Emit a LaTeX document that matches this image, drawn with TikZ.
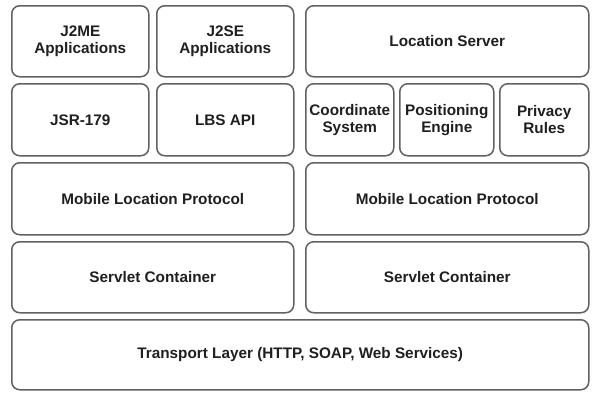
\documentclass[tikz,border=0pt]{standalone}
\usepackage{fontspec}
\setmainfont{Liberation Sans}
\usetikzlibrary{positioning}

\begin{document}
\begin{tikzpicture}[x=1pt,y=-1pt,
		layer/.style={draw=black!62, line width=1.5pt, rounded corners=8pt, anchor=north west,
			align=center, inner sep=1pt, text=black!88, font=\fontsize{15.3}{17}\selectfont\bfseries}]
		\useasboundingbox (0,0) rectangle (593,392);
		% left stack
		\node [layer, minimum width=137pt, minimum height=71pt] (j2me) at (11,5) {J2ME\\Applications};
		\node [layer, minimum width=137pt, minimum height=71pt] (j2se) at (156,5) {J2SE\\Applications};
		\node [layer, minimum width=137pt, minimum height=72pt] (jsr) at (11,83) {JSR-179};
		\node [layer, minimum width=137pt, minimum height=72pt] (lbsapi) at (156,83) {LBS API};
		\node [layer, minimum width=282pt, minimum height=72pt] (mlpleft) at (11,162) {Mobile Location Protocol};
		\node [layer, minimum width=282pt, minimum height=71pt] (servletleft) at (11,241) {Servlet Container};
		
		% right stack
		\node [layer, minimum width=283pt, minimum height=71pt] (locserver) at (305,5) {Location Server};
		\node [layer, minimum width=88pt, minimum height=72pt] (coord) at (305,83) {Coordinate\\System};
		\node [layer, minimum width=94pt, minimum height=72pt] (posengine) at (399,83) {Positioning\\Engine};
		\node [layer, minimum width=89pt, minimum height=72pt] (privacy) at (499,83) {Privacy\\Rules};
		\node [layer, minimum width=283pt, minimum height=72pt] (mlpright) at (305,162) {Mobile Location Protocol};
		\node [layer, minimum width=283pt, minimum height=71pt] (servletright) at (305,241) {Servlet Container};
		
		% bottom
		\node [layer, minimum width=577pt, minimum height=70pt] (transport) at (11,319) {Transport Layer (HTTP, SOAP, Web Services)};
	\end{tikzpicture}
\end{document}
